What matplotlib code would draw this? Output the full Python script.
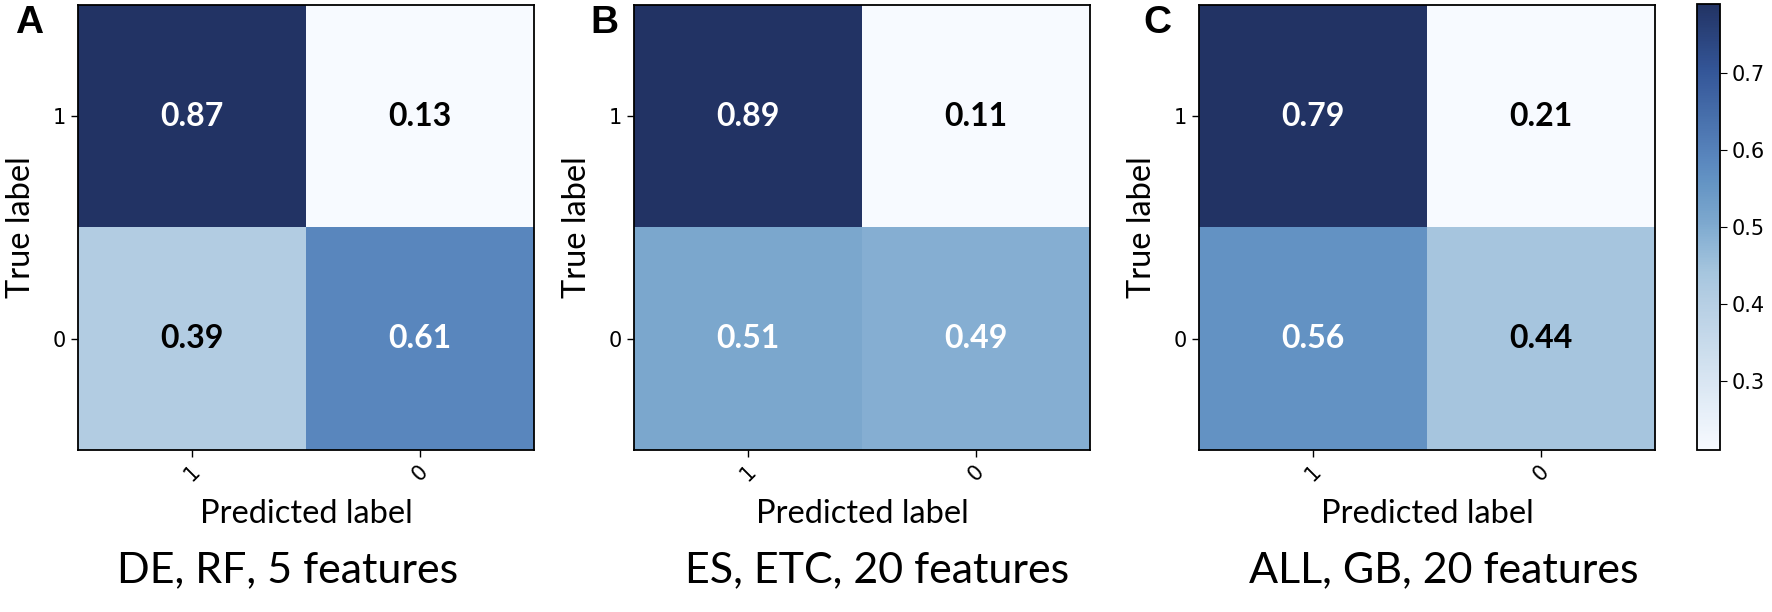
import numpy as np
import matplotlib
matplotlib.use('Agg')
import matplotlib.pyplot as plt
from matplotlib.colors import LinearSegmentedColormap

# confusion matrices (rows = true label 1,0 ; cols = predicted 1,0)
labels = ['1', '0']
panel_letters = ['A', 'B', 'C']
panel_titles = ['DE, RF, 5 features', 'ES, ETC, 20 features', 'ALL, GB, 20 features']
cm_de_rf = [[0.87, 0.13], [0.39, 0.61]]
cm_es_etc = [[0.89, 0.11], [0.51, 0.49]]
cm_all_gb = [[0.79, 0.21], [0.56, 0.44]]
matrices = [cm_de_rf, cm_es_etc, cm_all_gb]
cbar_ticks = [0.3, 0.4, 0.5, 0.6, 0.7]

# muted "Blues" as seen in the figure
cmap_pts = [(0.0, (247, 250, 255)), (0.35, (178, 204, 226)), (0.40, (165, 197, 222)),
            (0.49, (132, 174, 210)), (0.51, (125, 168, 206)), (0.60, (100, 148, 196)),
            (0.65, (90, 135, 190)), (0.85, (52, 86, 152)), (1.0, (34, 51, 100))]
muted_blues = LinearSegmentedColormap.from_list(
    'muted_blues', [(p, tuple(c / 255 for c in rgb)) for p, rgb in cmap_pts])

W, H = 1772, 612
fig = plt.figure(figsize=(W / 100, H / 100), dpi=100)

label_font = 'Lato'
ax_lefts = [78, 634, 1199]
ax_w, ax_top, ax_bot = 456, 5, 450
letter_x = [15, 590, 1143]
title_x = [288, 877, 1444]

im = None
for i, cm in enumerate(matrices):
    cm = np.array(cm)
    ax = fig.add_axes([ax_lefts[i] / W, 1 - ax_bot / H, ax_w / W, (ax_bot - ax_top) / H])
    im = ax.imshow(cm, interpolation='nearest', cmap=muted_blues, aspect='auto')
    ax.set_xticks(range(2))
    ax.set_yticks(range(2))
    ax.set_xticklabels(labels, rotation=45, fontsize=15)
    ax.set_yticklabels(labels, fontsize=15)
    ax.tick_params(length=5, width=1)
    for s in ax.spines.values():
        s.set_linewidth(1.3)
    for r in range(2):
        for c in range(2):
            v = cm[r, c]
            ax.text(c, r, f'{v:.2f}', ha='center', va='center', fontsize=23,
                    fontweight='bold', family=label_font,
                    color='white' if v > 0.45 else 'black')
    ax.set_xlabel('Predicted label', fontsize=23.5, family=label_font, labelpad=10)
    ax.set_ylabel('True label', fontsize=23.5, family=label_font, labelpad=12)
    fig.text(letter_x[i] / W, 1 - 5 / H, panel_letters[i], fontsize=28, fontweight='bold',
             family='Liberation Sans', ha='left', va='top')
    fig.text(title_x[i] / W, 1 - 570 / H, panel_titles[i], fontsize=31,
             family=label_font, ha='center', va='center')

cax = fig.add_axes([1697 / W, 1 - 450 / H, 23 / W, 446 / H])
cb = fig.colorbar(im, cax=cax, ticks=cbar_ticks)
cb.ax.tick_params(labelsize=15, length=5)
cb.outline.set_linewidth(1.3)

fig.savefig('out.png', dpi=100)
